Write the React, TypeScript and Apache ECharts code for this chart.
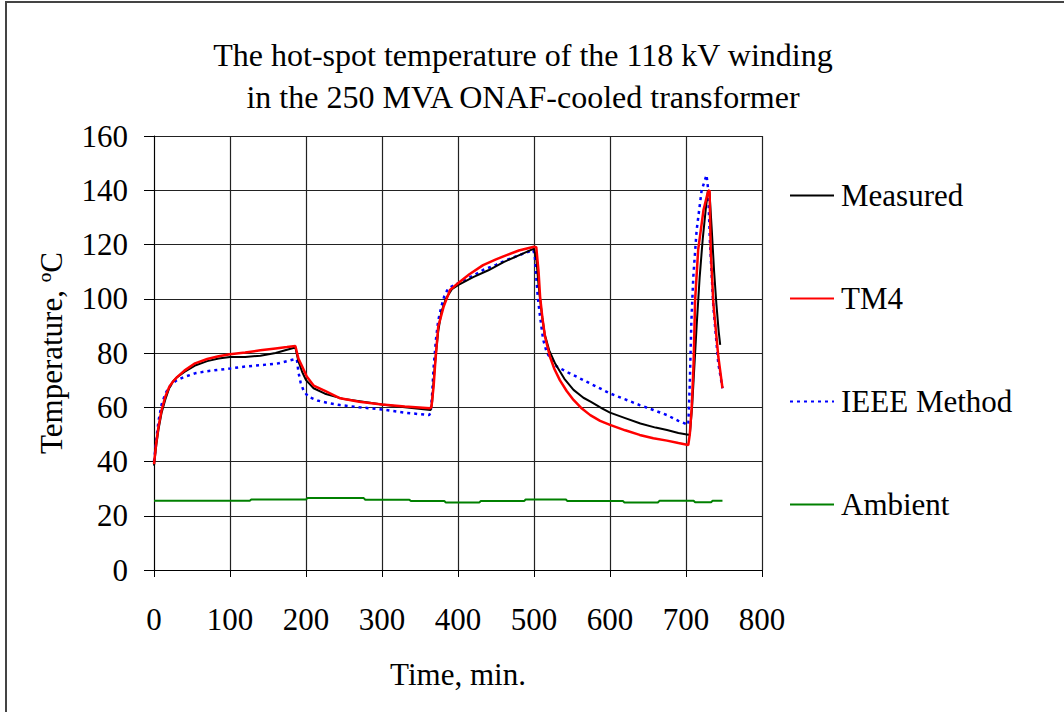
import React, { useEffect, useRef } from "react";
import * as echarts from "echarts";

const titleLines = [
  "The hot-spot temperature of the 118 kV winding",
  "in the 250 MVA ONAF-cooled transformer",
];
const seriesNames = ["Measured", "TM4", "IEEE Method", "Ambient"];
const xTicks = [0, 100, 200, 300, 400, 500, 600, 700, 800];
const yTicks = [0, 20, 40, 60, 80, 100, 120, 140, 160];

const measured: [number, number][] = [
  [0, 38.5], [3, 46], [6, 52], [10, 58], [15, 63], [20, 67], [25, 69.5], [30, 71],
  [40, 73], [55, 75.5], [70, 77], [85, 78], [100, 78.5], [120, 78.5], [140, 79],
  [160, 80], [175, 81.2], [186, 82], [190, 77], [195, 73], [200, 70], [210, 67],
  [225, 65], [250, 63], [275, 62], [300, 61], [330, 60], [364, 59], [366, 62],
  [368, 70], [371, 80], [374, 88], [378, 95], [384, 100], [392, 103.5], [400, 105],
  [420, 108], [440, 110.5], [460, 113.5], [480, 116], [500, 118.5], [503, 115],
  [506, 105], [510, 95], [514, 87], [520, 81], [528, 76], [540, 70.5], [552, 66.4],
  [565, 63.5], [575, 62], [590, 59.5], [600, 58], [620, 56], [640, 54], [660, 52.5],
  [675, 51.6], [690, 50.5], [705, 49.8], [708, 60], [711, 75], [714, 90], [718, 108],
  [722, 122], [726, 133], [729, 140], [731, 139], [734, 125], [737, 110], [740, 98],
  [743, 88], [745, 83],
];

const tm4: [number, number][] = [
  [0, 39], [3, 47], [6, 53], [10, 59], [15, 64], [20, 67.5], [25, 69.5], [30, 71],
  [40, 73.5], [54, 76.2], [70, 77.8], [85, 78.8], [100, 79.5], [120, 80.2], [140, 81],
  [160, 81.7], [175, 82.2], [186, 82.6], [190, 78], [195, 75], [201, 71.3], [210, 68],
  [225, 66], [245, 63.3], [270, 62], [300, 61], [330, 60.3], [363, 59.6], [365, 60],
  [368, 68], [370, 76.2], [374, 89.7], [381, 97], [389.5, 103.2], [400, 105.7],
  [415, 109], [433, 112.4], [450, 114.5], [464, 116.1], [480, 117.8], [500, 119.2],
  [503, 119], [506, 110], [508, 100.8], [511, 93], [514.5, 86], [521, 78.6], [527, 74],
  [534, 70], [543, 66], [552, 62.7], [563, 59.5], [574, 57.1], [587, 55], [600, 53.5],
  [620, 51.5], [639, 49.8], [657, 48.6], [675, 47.7], [690, 46.8], [703, 46.1],
  [705, 50], [707.5, 60], [710, 76], [712, 99.5], [716, 118], [723, 132.7],
  [729, 139.5], [731, 140], [732.5, 118], [736, 98.3], [742.5, 78.7], [748, 67],
];

const ieee: [number, number][] = [
  [0, 40], [3, 48], [6, 55], [10, 61], [15, 65], [20, 67.5], [25, 69], [30, 70],
  [40, 71.2], [54, 72.5], [70, 73.3], [85, 73.8], [100, 74.3], [120, 75], [140, 75.5],
  [164, 76.2], [185, 77.7], [188, 77.7], [190, 73], [193, 69], [197, 66], [203, 63.9],
  [215, 62.5], [230, 61.5], [245, 60.8], [270, 60], [300, 59.2], [330, 58], [362, 57.1],
  [364, 58], [366, 65], [368, 75], [371, 85], [374, 92], [378, 97], [382, 101],
  [387, 103.8], [395, 105], [410, 107], [433, 110.6], [450, 112.5], [464, 114.3],
  [480, 116], [499, 118], [501, 116], [503, 108], [505, 100.5], [508, 93.4], [512, 85],
  [517, 80], [522, 78], [530, 75], [545, 72.8], [560, 70.7], [580, 67.9], [600, 65.1],
  [620, 62.9], [639, 60.8], [657, 59], [675, 57.1], [690, 55], [703, 53.5],
  [705, 68.8], [707, 91], [709.6, 108], [714, 125.3], [720.6, 140], [727, 145.6],
  [729, 140.7], [731.6, 120.4], [736, 97], [742.5, 76.2], [748, 67],
];

const ambient: [number, number][] = [
  [0, 25.5], [126, 25.5], [128, 26], [200, 26], [202, 26.5], [276, 26.5], [278, 25.9],
  [336, 25.9], [338, 25.4], [382, 25.4], [384, 24.9], [428, 24.9], [430, 25.4],
  [487, 25.4], [489, 26], [542, 26], [544, 25.4], [617, 25.4], [619, 24.9], [663, 24.9],
  [665, 25.5], [710, 25.5], [712, 25], [733, 25], [735, 25.5], [748, 25.5],
];

const FONT = "'Liberation Serif', 'Times New Roman', serif";

export default function App() {
  const ref = useRef<HTMLDivElement>(null);
  useEffect(() => {
    if (!ref.current) return;
    const chart = echarts.init(ref.current, undefined, { renderer: "svg" });
    const mk = (name: string, data: [number, number][], color: string, width: number, type: any, z: number) => ({
      name,
      type: "line",
      data,
      symbol: "none",
      showSymbol: false,
      z,
      lineStyle: { color, width, type },
      itemStyle: { color },
    });
    chart.setOption({
      animation: false,
      backgroundColor: "#fff",
      textStyle: { fontFamily: FONT },
      title: {
        text: titleLines.join("\n"),
        left: 518,
        top: 29,
        textAlign: "center",
        textStyle: { fontFamily: FONT, fontSize: 32, fontWeight: "normal", color: "#000", lineHeight: 42 },
      },
      legend: {
        orient: "vertical",
        left: 784,
        top: 175,
        itemWidth: 44,
        itemHeight: 14,
        itemGap: 72,
        data: seriesNames,
        itemStyle: { opacity: 0 },
        textStyle: { fontFamily: FONT, fontSize: 31, color: "#000", lineHeight: 31, padding: [0, 0, 0, 2] },
      },
      grid: { left: 154, right: 302, top: 136, bottom: 142, containLabel: false },
      xAxis: {
        type: "value",
        min: 0,
        max: 800,
        interval: 100,
        name: "Time, min.",
        nameLocation: "middle",
        nameGap: 89,
        nameTextStyle: { fontFamily: FONT, fontSize: 31, color: "#000" },
        axisLine: { show: true, lineStyle: { color: "#000", width: 1 } },
        axisTick: { show: true, length: 7, lineStyle: { color: "#000" } },
        axisLabel: { margin: 34, fontFamily: FONT, fontSize: 31, color: "#000" },
        splitLine: { show: true, lineStyle: { color: "#222", width: 1.2 } },
      },
      yAxis: {
        type: "value",
        min: 0,
        max: 160,
        interval: 20,
        name: "Temperature, ºC",
        nameLocation: "middle",
        nameRotate: 90,
        nameGap: 87,
        nameTextStyle: { fontFamily: FONT, fontSize: 31, color: "#000" },
        axisLine: { show: true, lineStyle: { color: "#000", width: 1 } },
        axisTick: { show: true, length: 10, lineStyle: { color: "#000" } },
        axisLabel: { margin: 26, fontFamily: FONT, fontSize: 31, color: "#000" },
        splitLine: { show: true, lineStyle: { color: "#222", width: 1.2 } },
      },
      graphic: [
        {
          type: "rect",
          shape: { x: 6, y: 2, width: 1200, height: 900 },
          style: { fill: "none", stroke: "#444", lineWidth: 2 },
          silent: true,
        },
      ],
      series: [
        mk(seriesNames[3], ambient, "#008000", 2, "solid", 2),
        mk(seriesNames[2], ieee, "#0000ff", 2.5, [3, 4], 3),
        mk(seriesNames[0], measured, "#000000", 2, "solid", 4),
        mk(seriesNames[1], tm4, "#ff0000", 2.5, "solid", 5),
      ],
    });
    return () => chart.dispose();
  }, []);
  return (
    <div
      ref={ref}
      style={{ position: "fixed", left: 0, top: 0, width: 1064, height: 712, background: "#fff" }}
    />
  );
}
